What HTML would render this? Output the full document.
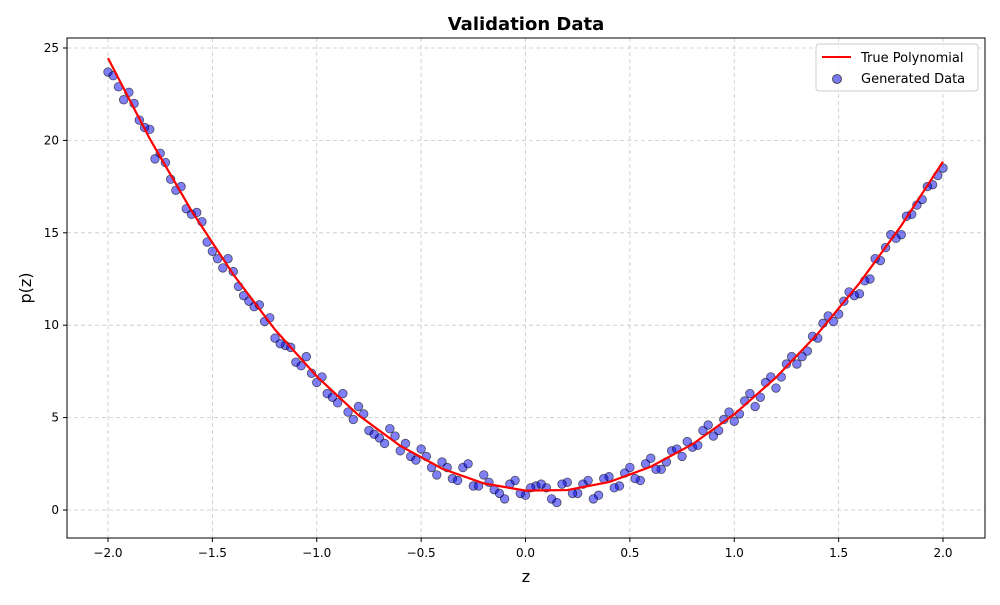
<!DOCTYPE html>
<html><head><meta charset="utf-8"><style>
body{margin:0;background:#fff;font-family:"Liberation Sans","DejaVu Sans",sans-serif}
svg text{font-family:"DejaVu Sans","Liberation Sans",sans-serif}
</style></head><body>
<svg id="chart" width="1000" height="600">
<rect width="1000" height="600" fill="#fff"/>
<g id="grid"></g><g id="marks"></g><g id="axes"></g>
<text x="526" y="30" text-anchor="middle" font-size="18" font-weight="bold">Validation Data</text>
<text x="526" y="582" text-anchor="middle" font-size="16">z</text>
<text x="31" y="288" text-anchor="middle" font-size="16" transform="rotate(-90 31 288)">p(z)</text>
<g>
<rect x="816" y="44" width="162" height="47" rx="3" fill="#fff" fill-opacity="0.8" stroke="#ccc"/>
<line x1="822" y1="57" x2="851" y2="57" stroke="red" stroke-width="2"/>
<text x="861" y="62" font-size="13">True Polynomial</text>
<circle cx="837" cy="79" r="4.5" fill="#7777ee" stroke="#333" stroke-width="0.8"/>
<text x="861" y="83" font-size="13">Generated Data</text>
</g>
</svg>
<script>
const lineZ=[-2,-1.8,-1.6,-1.4,-1.2,-1,-0.8,-0.6,-0.4,-0.2,0,0.2,0.4,0.6,0.8,1,1.2,1.4,1.6,1.8,2];
const lineP=[24.45,20.09,16.19,12.75,9.76,7.23,5.13,3.47,2.24,1.44,1.05,1.08,1.51,2.34,3.56,5.18,7.17,9.54,12.28,15.39,18.85];
const dataZ=[-2,-1.95,-1.9,-1.85,-1.8,-1.75,-1.7,-1.65,-1.6,-1.55,-1.5,-1.45,-1.4,-1.35,-1.3,-1.25,-1.2,-1.15,-1.1,-1.05,-1,-0.95,-0.9,-0.85,-0.8,-0.75,-0.7,-0.65,-0.6,-0.55,-0.5,-0.45,-0.4,-0.35,-0.3,-0.25,-0.2,-0.15,-0.1,-0.05,0,0.05,0.1,0.15,0.2,0.25,0.3,0.35,0.4,0.45,0.5,0.55,0.6,0.65,0.7,0.75,0.8,0.85,0.9,0.95,1,1.05,1.1,1.15,1.2,1.25,1.3,1.35,1.4,1.45,1.5,1.55,1.6,1.65,1.7,1.75,1.8,1.85,1.9,1.95,2];
const dataP=[23.7,22.9,22.6,21.1,20.6,19.3,17.9,17.5,16.0,15.6,14.0,13.1,12.9,11.6,11.0,10.2,9.3,8.9,8.0,8.3,6.9,6.3,5.8,5.3,5.6,4.3,3.9,4.4,3.2,2.9,3.3,2.3,2.6,1.7,2.3,1.3,1.9,1.1,0.6,1.6,0.8,1.3,1.2,0.4,1.5,0.9,1.6,0.8,1.8,1.3,2.3,1.6,2.8,2.2,3.2,2.9,3.4,4.3,4.0,4.9,4.8,5.9,5.6,6.9,6.6,7.9,7.9,8.6,9.3,10.5,10.6,11.8,11.7,12.5,13.5,14.9,14.9,16.0,16.8,17.6,18.5];
const dataZ2=[-1.975,-1.925,-1.875,-1.825,-1.775,-1.725,-1.675,-1.625,-1.575,-1.525,-1.475,-1.425,-1.375,-1.325,-1.275,-1.225,-1.175,-1.125,-1.075,-1.025,-0.975,-0.925,-0.875,-0.825,-0.775,-0.725,-0.675,-0.625,-0.575,-0.525,-0.475,-0.425,-0.375,-0.325,-0.275,-0.225,-0.175,-0.125,-0.075,-0.025,0.025,0.075,0.125,0.175,0.225,0.275,0.325,0.375,0.425,0.475,0.525,0.575,0.625,0.675,0.725,0.775,0.825,0.875,0.925,0.975,1.025,1.075,1.125,1.175,1.225,1.275,1.325,1.375,1.425,1.475,1.525,1.575,1.625,1.675,1.725,1.775,1.825,1.875,1.925,1.975];
const dataP2=[23.5,22.2,22.0,20.7,19.0,18.8,17.3,16.3,16.1,14.5,13.6,13.6,12.1,11.3,11.1,10.4,9.0,8.8,7.8,7.4,7.2,6.1,6.3,4.9,5.2,4.1,3.6,4.0,3.6,2.7,2.9,1.9,2.3,1.6,2.5,1.3,1.5,0.9,1.4,0.9,1.2,1.4,0.6,1.4,0.9,1.4,0.6,1.7,1.2,2.0,1.7,2.5,2.2,2.6,3.3,3.7,3.5,4.6,4.3,5.3,5.2,6.3,6.1,7.2,7.2,8.3,8.3,9.4,10.1,10.2,11.3,11.6,12.4,13.6,14.2,14.7,15.9,16.5,17.5,18.1];
const xTicks=[-2,-1.5,-1,-0.5,0,0.5,1,1.5,2];
const xTickLabels=["−2.0","−1.5","−1.0","−0.5","0.0","0.5","1.0","1.5","2.0"];
const yTicks=[0,5,10,15,20,25];
const yTickLabels=["0","5","10","15","20","25"];
const L=67,R=985,T=38,B=538;
const xs=z=>108+(z+2)*208.75;
const ys=p=>510-p*18.48;
const NS="http://www.w3.org/2000/svg";
function mk(tag,parent,attrs){const e=document.createElementNS(NS,tag);for(const k in attrs)e.setAttribute(k,attrs[k]);document.getElementById(parent).appendChild(e);return e;}
xTicks.forEach((t,i)=>{
 const g=mk('line','grid',{x1:xs(t),x2:xs(t),y1:T,y2:B,stroke:'#c8c8c8','stroke-dasharray':'4,3','stroke-width':0.8});
 
 
 const tk=mk('line','axes',{x1:xs(t),x2:xs(t),y1:B,y2:B+4,stroke:'#000'});
 
 
 const tx=mk('text','axes',{x:xs(t),y:B+19,'text-anchor':'middle','font-size':12});
 tx.textContent=xTickLabels[i];
 
 
});
yTicks.forEach((t,i)=>{
 const g=mk('line','grid',{x1:L,x2:R,y1:ys(t),y2:ys(t),stroke:'#c8c8c8','stroke-dasharray':'4,3','stroke-width':0.8});
 
 
 const tk=mk('line','axes',{x1:L-4,x2:L,y1:ys(t),y2:ys(t),stroke:'#000'});
 
 
 const tx=mk('text','axes',{x:L-8,y:ys(t)+4,'text-anchor':'end','font-size':12});
 tx.textContent=yTickLabels[i];
 
 
});
const frame=mk('rect','axes',{x:L,y:T,width:R-L,height:B-T,fill:'none',stroke:'#000','stroke-width':1});


function drawPts(zs,ps){
 zs.forEach((z,i)=>{
  const c=mk('circle','marks',{cx:xs(z),cy:ys(ps[i]),r:4.3,fill:'#0000ee','fill-opacity':0.5,stroke:'#000','stroke-opacity':0.6,'stroke-width':0.8});
  
  
 });
}
drawPts(dataZ,dataP);
drawPts(dataZ2,dataP2);
const pl=mk('polyline','marks',{points:lineZ.map((z,i)=>xs(z)+','+ys(lineP[i])).join(' '),fill:'none',stroke:'red','stroke-width':2.2});


</script>
</body></html>
